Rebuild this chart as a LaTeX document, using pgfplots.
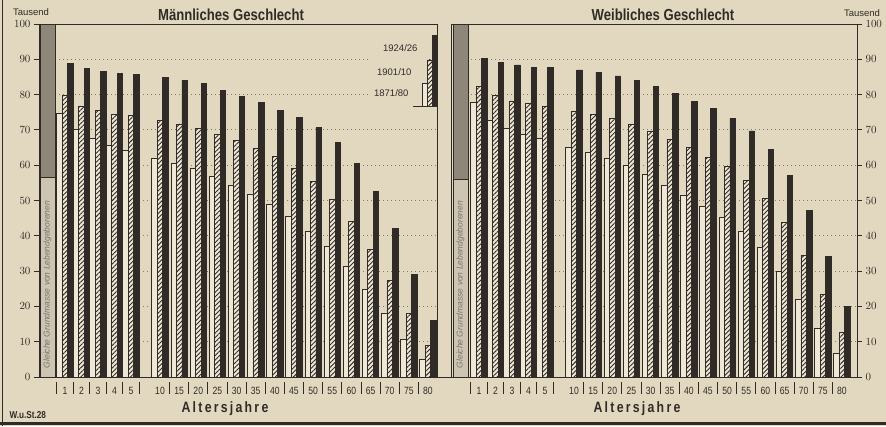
\documentclass[border=0pt]{standalone}
\usepackage{fontspec}
\setmainfont{Liberation Sans}
\newfontfamily\cond{Liberation Sans}[FakeStretch=0.82]
\newfontfamily\spaced{Liberation Sans}[FakeStretch=0.82,LetterSpace=15]
\usepackage{pgfplots}
\usepackage{pgfplotstable}
\pgfplotsset{compat=1.18}
\usetikzlibrary{patterns.meta}

\definecolor{paper}{HTML}{E2D8C0}
\definecolor{barw}{HTML}{EEE7D5}
\definecolor{ink}{HTML}{302B26}
\definecolor{greyA}{HTML}{8E8679}
\definecolor{greyB}{HTML}{CDC4B1}
\definecolor{gridc}{HTML}{857B6B}

% x = group centre (shared by both panels), w = 1871/80, h = 1901/10, b = 1924/26
\pgfplotstableread{
x      w    h    b
65     74.7 79.7 88.9
81.5   70.2 76.8 87.3
98     67.6 75.4 86.5
114.5  65.7 74.5 86.0
131    64.3 74.2 85.8
160    61.9 72.8 84.8
179.14 60.5 71.7 84.1
198.28 59.1 70.4 83.2
217.42 56.9 68.6 81.1
236.56 54.4 67.0 79.6
255.70 51.8 64.8 77.7
274.84 48.9 62.6 75.6
293.98 45.4 59.1 73.5
313.12 41.4 55.3 70.7
332.26 37.1 50.3 66.5
351.40 31.3 44.0 60.6
370.54 24.8 36.2 52.5
389.68 18.0 27.3 42.1
408.82 10.7 18.0 29.1
427.96  5.0  8.9 16.0
}\men

\pgfplotstableread{
x      w    h    b
65     77.8 82.4 90.3
81.5   72.8 79.7 89.0
98     70.3 78.2 88.4
114.5  68.8 77.5 87.8
131    67.6 76.8 87.6
160    65.0 75.3 87.0
179.14 63.5 74.5 86.4
198.28 61.8 73.3 85.3
217.42 60.0 71.7 83.9
236.56 57.5 69.5 82.4
255.70 54.4 67.3 80.4
274.84 51.6 65.1 78.0
293.98 48.4 62.2 76.1
313.12 45.3 59.6 73.3
332.26 41.4 55.8 69.7
351.40 36.7 50.6 64.5
370.54 29.8 43.8 57.2
389.68 22.1 34.4 47.1
408.82 13.8 23.5 34.1
427.96  6.7 12.7 19.9
}\women

\pgfplotsset{
  panel/.style={
    scale only axis, anchor=south west,
    height=353pt, ymin=0, ymax=100,
    axis line style={ink, line width=0.9pt},
    tick style={ink, line width=0.8pt},
    tick align=outside, major tick length=5pt,
    ytick={0,10,...,100},
    yticklabel style={font=\fontsize{10.5}{12}\selectfont, text=ink},
    xtick={65,81.5,98,114.5,131,160,179.14,198.28,217.42,236.56,255.70,274.84,293.98,313.12,332.26,351.40,370.54,389.68,408.82,427.96},
    xticklabels={1,2,3,4,5,10,15,20,25,30,35,40,45,50,55,60,65,70,75,80},
    xtick style={draw=none},
    xticklabel style={font=\cond\fontsize{10.5}{12}\selectfont, text=ink, yshift=-1.5pt},
    ymajorgrids,
    grid style={gridc, line width=0.9pt, dash pattern=on 1.3pt off 2.7pt},
    bar width=5.5,
  },
  sep/.style={
    scale only axis, anchor=south west, height=10pt, ymin=0, ymax=1,
    hide y axis, axis x line*=bottom, axis line style={draw=none},
    xtick pos=bottom, tick align=outside, major tick length=11.5pt,
    tick style={ink, line width=0.8pt},
    xtick={56.75,73.25,89.75,106.25,122.75,139.25,169.57,188.71,207.85,226.99,246.13,265.27,284.41,303.55,322.69,341.83,360.97,380.11,399.25,418.39},
    xticklabels={,,,,,,,,,,,,,,,,,,,},
    xticklabel style={opacity=0, font=\tiny},
  },
  wbar/.style={ybar, bar shift=-5.5, draw=ink, line width=0.7pt, fill=barw},
  hbar/.style={ybar, bar shift=0, draw=ink, line width=0.7pt, fill=barw,
    postaction={pattern color=ink, pattern={Lines[angle=45,distance=3.2pt,line width=0.9pt]}}},
  bbar/.style={ybar, bar shift=5.5, draw=ink, line width=0.7pt, fill=ink},
  gbar/.style={ybar, bar width=15, bar shift=0, draw=ink, line width=0.7pt},
}

\begin{document}
\begin{tikzpicture}[x=1pt,y=1pt]
\fill[paper] (0,0) rectangle (886,426);
\useasboundingbox (0,0) rectangle (886,426);

% ---- Männliches Geschlecht
\begin{axis}[panel, at={(39pt,49pt)}, width=398pt, xmin=39, xmax=437, ytick pos=left]
\addplot[gbar, fill=greyA] coordinates {(47.5,100)};
\addplot[gbar, fill=greyB] coordinates {(47.5,56.5)};
\addplot[wbar] table[x=x,y=w]{\men};
\addplot[hbar] table[x=x,y=h]{\men};
\addplot[bbar] table[x=x,y=b]{\men};
\node[rotate=90, anchor=west, font=\itshape\fontsize{8.5}{9}\selectfont, text=ink!65] at (axis cs:47.5,1.5) {Gleiche Grundmasse von Lebendgeborenen};
\end{axis}
\begin{axis}[sep, at={(39pt,44pt)}, width=398pt, xmin=39, xmax=437]
\addplot[draw=none] coordinates {(100,0.5)};
\end{axis}

% ---- Weibliches Geschlecht
\begin{axis}[panel, at={(451pt,49pt)}, width=406pt, xmin=37, xmax=443, ytick pos=right, yticklabel pos=right]
\addplot[gbar, fill=greyA] coordinates {(46.5,100)};
\addplot[gbar, fill=greyB] coordinates {(46.5,56)};
\addplot[wbar] table[x=x,y=w]{\women};
\addplot[hbar] table[x=x,y=h]{\women};
\addplot[bbar] table[x=x,y=b]{\women};
\node[rotate=90, anchor=west, font=\itshape\fontsize{8.5}{9}\selectfont, text=ink!65] at (axis cs:46.5,1.5) {Gleiche Grundmasse von Lebendgeborenen};
\end{axis}
\begin{axis}[sep, at={(451pt,44pt)}, width=406pt, xmin=37, xmax=443]
\addplot[draw=none] coordinates {(100,0.5)};
\end{axis}

\draw[ink, line width=0.9pt] (437,49) -- (451,49);

% legend
\fill[paper] (368,320) rectangle (436.3,393);
\begin{axis}[at={(413pt,320pt)}, anchor=south west, scale only axis,
  width=24.2pt, height=71pt, xmin=-2.2, xmax=2.45, ymin=0, ymax=71,
  axis x line=bottom, axis y line=none, axis line style={ink, line width=0.9pt, -},
  xtick=\empty, ytick=\empty, bar width=1, clip=false]
\addplot[ybar, bar shift=0, draw=ink, line width=0.7pt, fill=barw] coordinates {(0,23)};
\addplot[ybar, bar shift=0, draw=ink, line width=0.7pt, fill=barw,
  postaction={pattern color=ink, pattern={Lines[angle=45,distance=3.2pt,line width=0.9pt]}}] coordinates {(1,46)};
\addplot[ybar, bar shift=0, draw=ink, line width=0.7pt, fill=ink] coordinates {(2,71)};
\end{axis}
\node[anchor=east, font=\fontsize{9.5}{11}\selectfont, text=ink] at (421,378) {1924/26};
\node[anchor=east, font=\fontsize{9.5}{11}\selectfont, text=ink] at (415,354) {1901/10};
\node[anchor=east, font=\fontsize{9.5}{11}\selectfont, text=ink] at (412,333) {1871/80};

% titles and labels
\node[font=\cond\bfseries\fontsize{16}{18}\selectfont, text=ink] at (231,411) {Männliches Geschlecht};
\node[font=\cond\bfseries\fontsize{16}{18}\selectfont, text=ink] at (663,411) {Weibliches Geschlecht};
\node[font=\fontsize{9.5}{11}\selectfont, text=ink] at (31,414) {Tausend};
\node[font=\fontsize{9.5}{11}\selectfont, text=ink] at (862,413) {Tausend};
\node[font=\spaced\bfseries\fontsize{15}{17}\selectfont, text=ink] at (225,17) {Altersjahre};
\node[font=\spaced\bfseries\fontsize{15}{17}\selectfont, text=ink] at (637,17) {Altersjahre};
\node[anchor=west, font=\cond\bfseries\fontsize{10}{11}\selectfont, text=ink] at (6,11) {W.u.St.28};

% page frame
\draw[ink, line width=2.5pt] (0,2.5) -- (886,2.5);
\draw[ink, line width=1pt] (2.5,0) -- (2.5,426);
\end{tikzpicture}
\end{document}
